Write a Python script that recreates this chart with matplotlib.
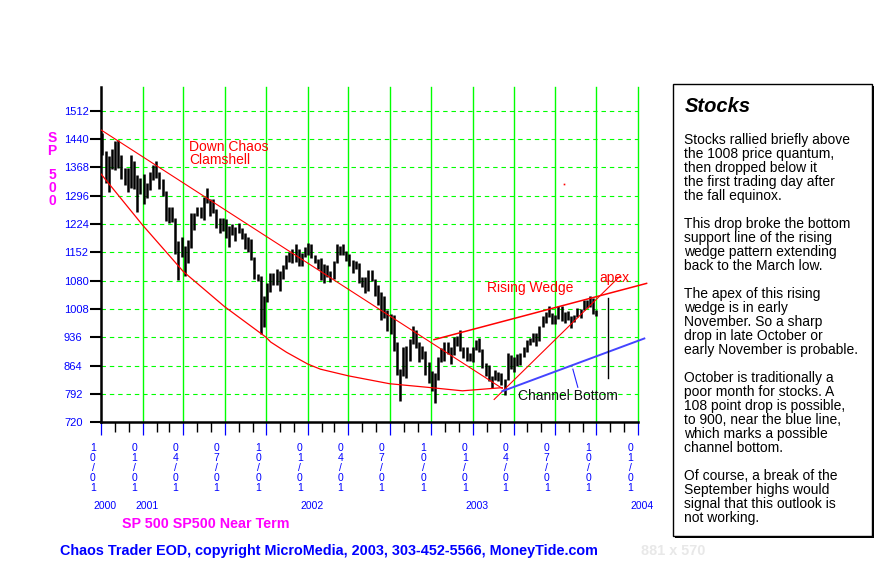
import matplotlib
matplotlib.use('Agg')
import matplotlib.pyplot as plt
import matplotlib.dates as mdates
import pandas as pd
from matplotlib.patches import Rectangle

plt.rcParams['font.family'] = ['Liberation Sans', 'DejaVu Sans']

W, H = 881, 570

# weekly S&P 500 ranges, first week starting 2000-10-02
first_week = '2000-10-02'
highs = [
    # 2000
    1455, 1409, 1396, 1415, 1434, 1438, 1400, 1367, 1366, 1400, 1385, 1348, 1340,
    # 2001
    1350, 1327, 1357, 1373, 1383, 1356, 1337, 1308, 1268, 1268, 1240, 1180, 1190,
    1169, 1183, 1253, 1253, 1267, 1268, 1292, 1316, 1287, 1287, 1261, 1240, 1240,
    1237, 1219, 1225, 1215, 1226, 1214, 1201, 1190, 1186, 1140, 1097, 1092, 1041,
    1075, 1099, 1099, 1110, 1104, 1120, 1145, 1152, 1161, 1173, 1160, 1150, 1165, 1176,
    # 2002
    1172, 1146, 1135, 1138, 1122, 1120, 1105, 1131, 1173, 1168, 1174, 1155,
    1148, 1133, 1131, 1126, 1088, 1090, 1107, 1107, 1085, 1068, 1050, 1040, 1005,
    994, 993, 925, 855, 912, 915, 931, 965, 955, 924, 915, 900, 873, 851,
    845, 886, 908, 925, 925, 911, 937, 940, 954, 912, 911, 897, 912,
    # 2003
    930, 935, 906, 870, 865, 837, 852, 848, 846, 830, 896, 890, 885,
    894, 896, 912, 930, 934, 948, 947, 964, 990, 1000, 1016, 998, 992,
    1015, 1016, 1000, 1004, 990, 992, 1011, 1009, 1032, 1032, 1040, 1036, 1005,
]
lows = [
    # 2000
    1400, 1329, 1305, 1364, 1360, 1365, 1339, 1322, 1305, 1315, 1312, 1254, 1300,
    # 2001
    1274, 1290, 1310, 1335, 1340, 1312, 1294, 1231, 1226, 1230, 1148, 1081, 1140,
    1091, 1126, 1164, 1209, 1243, 1240, 1233, 1276, 1244, 1253, 1213, 1200, 1207,
    1189, 1165, 1196, 1181, 1201, 1186, 1160, 1153, 1133, 1085, 1080, 944, 962,
    1026, 1052, 1068, 1068, 1054, 1085, 1110, 1128, 1125, 1127, 1118, 1118, 1139, 1145,
    # 2002
    1138, 1124, 1110, 1081, 1074, 1090, 1077, 1085, 1126, 1145, 1145, 1130,
    1118, 1100, 1109, 1075, 1063, 1048, 1053, 1080, 1040, 1017, 981, 985, 952,
    945, 900, 840, 775, 837, 833, 876, 918, 910, 873, 880, 841, 819, 800,
    768, 828, 873, 876, 893, 868, 892, 913, 900, 884, 876, 875, 872,
    # 2003
    903, 899, 858, 837, 825, 806, 828, 826, 815, 789, 827, 855, 847,
    862, 865, 886, 898, 916, 925, 915, 926, 963, 973, 987, 970, 970,
    982, 977, 973, 979, 960, 974, 988, 985, 1006, 1010, 1013, 995, 990,
]

# drawn lines
clam_top_dates = ['2000-10-01', '2003-03-07']
clam_top_vals = [1463, 806]
clam_low_dates = ['2000-10-01', '2001-01-01', '2001-04-01', '2001-07-01', '2001-10-01',
                  '2001-10-11', '2001-11-15', '2002-01-01', '2002-01-29', '2002-04-01',
                  '2002-07-01', '2002-10-01', '2002-12-09', '2003-02-12', '2003-03-07']
clam_low_vals = [1351, 1221, 1103, 1014, 936, 924, 898, 868, 855, 838, 818, 808, 800, 806, 808]
wedge_top_dates = ['2002-10-07', '2004-01-20']
wedge_top_vals = [930, 1073]
wedge_low_dates = ['2003-02-17', '2003-11-21']
wedge_low_vals = [778, 1090]
channel_dates = ['2003-03-07', '2004-01-15']
channel_vals = [799, 933]
pointer_dates = ['2003-08-10', '2003-08-21']
pointer_vals = [855, 809]
drop_date = '2003-10-26'
drop_vals = [1035, 832]

yticks = [720, 792, 864, 936, 1008, 1080, 1152, 1224, 1296, 1368, 1440, 1512]
quarters = ['2000-10-01', '2001-01-01', '2001-04-01', '2001-07-01', '2001-10-01',
            '2002-01-01', '2002-04-01', '2002-07-01', '2002-10-01', '2003-01-01',
            '2003-04-01', '2003-07-01', '2003-10-01', '2004-01-01']
quarter_labels = ['10/01', '01/01', '04/01', '07/01', '10/01', '01/01', '04/01',
                  '07/01', '10/01', '01/01', '04/01', '07/01', '10/01', '01/01']
year_dates = ['2000-10-01', '2001-01-01', '2002-01-01', '2003-01-01', '2004-01-01']
year_labels = ['2000', '2001', '2002', '2003', '2004']

notes = [
    'Stocks rallied briefly above', 'the 1008 price quantum,', 'then dropped below it',
    'the first trading day after', 'the fall equinox.', '',
    'This drop broke the bottom', 'support line of the rising', 'wedge pattern extending',
    'back to the March low.', '',
    'The apex of this rising', 'wedge is in early', 'November. So a sharp',
    'drop in late October or', 'early November is probable.', '',
    'October is traditionally a', 'poor month for stocks. A', '108 point drop is possible,',
    'to 900, near the blue line,', 'which marks a possible', 'channel bottom.', '',
    'Of course, a break of the', 'September highs would', 'signal that this outlook is',
    'not working.',
]


def d(s):
    return mdates.date2num(pd.Timestamp(s))


def fx(px):
    return px / W


def fy(py):
    return 1 - py / H


fig = plt.figure(figsize=(W / 100, H / 100), dpi=100)
fig.patch.set_facecolor('white')

ax = fig.add_axes([fx(101), fy(422.3), (638 - 101) / W, (422.3 - 87) / H])
ax.set_xlim(d('2000-10-01'), d('2004-01-01'))
ax.set_ylim(720, 1572)

# grid
for q in quarters[1:]:
    ax.axvline(d(q), color='#00ff00', lw=1.0, zorder=1, clip_on=False)
for v in yticks[1:]:
    ax.axhline(v, color='#00ff00', lw=0.8, ls=(0, (4, 3.5)), zorder=1)

# price bars
weeks = pd.date_range(first_week, periods=len(highs), freq='7D') + pd.Timedelta(days=2)
ax.vlines(mdates.date2num(weeks), lows, highs, color='black', lw=1.8, zorder=3)

# chaos lines
ax.plot([d(s) for s in clam_top_dates], clam_top_vals, color='red', lw=0.8, zorder=4)
ax.plot([d(s) for s in clam_low_dates], clam_low_vals, color='red', lw=0.9, zorder=4)
ax.plot([d(s) for s in wedge_top_dates], wedge_top_vals, color='red', lw=1.1, zorder=4,
        clip_on=False)
ax.plot([d(s) for s in wedge_low_dates], wedge_low_vals, color='red', lw=0.8, zorder=4)
ax.plot([d(s) for s in channel_dates], channel_vals, color='#4444ff', lw=1.4, zorder=4,
        clip_on=False)
ax.plot([d(s) for s in pointer_dates], pointer_vals, color='#2222ff', lw=0.8, zorder=4)
ax.plot([d(drop_date), d(drop_date)], drop_vals, color='black', lw=1.0, zorder=4)
ax.plot([d('2003-07-22')], [1326], 's', color='red', ms=1.2, mew=0, zorder=4)

ax.text(d('2001-04-14'), 1420, 'Down Chaos', color='red', fontsize=10, va='center', ha='left')
ax.text(d('2001-04-14'), 1386, 'Clamshell', color='red', fontsize=10, va='center', ha='left')
ax.text(d('2003-02-01'), 1061, 'Rising Wedge', color='red', fontsize=10, va='center', ha='left')
ax.text(d('2003-10-07'), 1086, 'apex', color='red', fontsize=10, va='center', ha='left')
ax.text(d('2003-04-11'), 786, 'Channel Bottom', color='#111111', fontsize=10,
        va='center', ha='left')

# spines and ticks
ax.spines['top'].set_visible(False)
ax.spines['right'].set_visible(False)
ax.spines['left'].set_linewidth(1.8)
ax.spines['bottom'].set_linewidth(1.8)
ax.set_yticks(yticks)
ax.tick_params(axis='y', length=8, width=1.5, color='black', labelcolor='blue',
               labelsize=8, pad=18.7)
for lab in ax.get_yticklabels():
    lab.set_ha('left')
ax.set_xticks([d(q) for q in quarters])
ax.set_xticklabels([])
ax.xaxis.set_minor_locator(mdates.MonthLocator())
ax.tick_params(axis='x', which='major', length=9.6, width=0.9, color='blue')
ax.tick_params(axis='x', which='minor', length=7, width=1.0, color='black')

for q, s in zip(quarters, quarter_labels):
    for j, ch in enumerate(s):
        ax.annotate(ch, xy=(d(q), 0), xycoords=('data', 'axes fraction'),
                    xytext=(-8, -(447.7 - 422.3) - 10.1 * j), textcoords='offset pixels',
                    ha='center', va='center', color='blue', fontsize=7.5,
                    annotation_clip=False)
for q, s in zip(year_dates, year_labels):
    ax.annotate(s, xy=(d(q), 0), xycoords=('data', 'axes fraction'),
                xytext=(4, -(506 - 422.3)), textcoords='offset pixels',
                ha='center', va='center', color='blue', fontsize=7.5,
                annotation_clip=False)

# y label
for ch, py in zip('SP500', [138, 151, 175, 188, 201]):
    fig.text(fx(52), fy(py), ch, color='#ff00ff', fontsize=10, fontweight='bold',
             ha='center', va='center')

fig.text(fx(122), fy(524), 'SP 500 SP500 Near Term', color='#ff00ff', fontsize=10.3,
         fontweight='bold', ha='left', va='center')
fig.text(fx(60), fy(551), 'Chaos Trader EOD, copyright MicroMedia, 2003, 303-452-5566, MoneyTide.com',
         color='blue', fontsize=10.4, fontweight='bold', ha='left', va='center')
fig.text(fx(641), fy(551), '881 x 570', color='#e8e8e8', fontsize=10.4,
         fontweight='bold', ha='left', va='center')

# commentary box
fig.patches.append(Rectangle((fx(675), fy(538)), (872 - 673) / W, (536 - 84) / H,
                             transform=fig.transFigure, facecolor='black', edgecolor='none',
                             zorder=1))
fig.patches.append(Rectangle((fx(673), fy(536)), (872 - 673) / W, (536 - 84) / H,
                             transform=fig.transFigure, facecolor='white', edgecolor='black',
                             lw=1.0, zorder=2))
fig.text(fx(685), fy(106), 'Stocks', fontsize=14.5, fontweight='bold', fontstyle='italic',
         ha='left', va='center', zorder=3)
for i, line in enumerate(notes):
    if line:
        fig.text(fx(684), fy(140 + 14 * i), line, fontsize=10, ha='left', va='center',
                 color='black', zorder=3)

fig.savefig('out.png', dpi=100)
